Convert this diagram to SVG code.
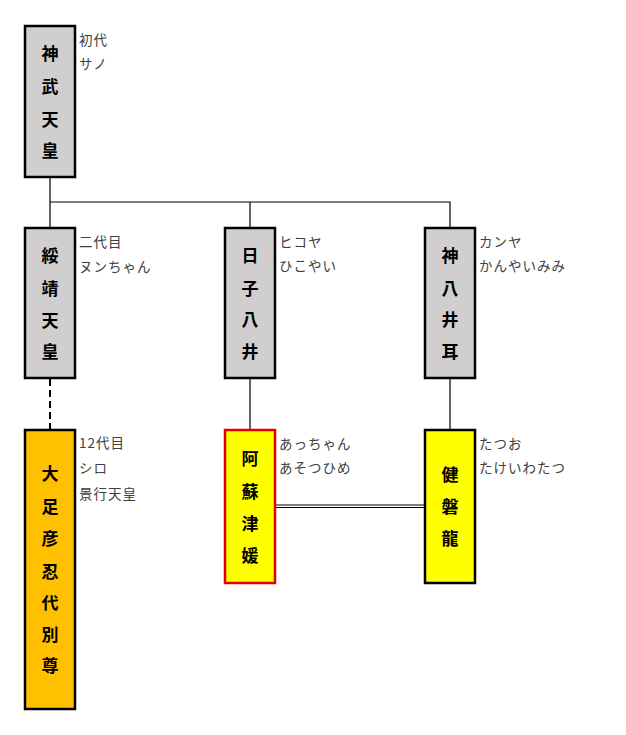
<svg xmlns="http://www.w3.org/2000/svg" width="626" height="735" viewBox="0 0 626 735">
<style>
.box{stroke:#000;stroke-width:2.5}
.gray{fill:#D0CECE}
.yel{fill:#FFFF00}
.org{fill:#FFC000}
.red{stroke:#E00000}
.nm{font-family:"Noto Sans CJK JP","Noto Sans CJK SC",sans-serif;font-weight:bold;font-size:17px;fill:#000;text-anchor:middle;dominant-baseline:central}
.lb{font-family:"Noto Sans CJK JP","Noto Sans CJK SC",sans-serif;font-size:13.5px;fill:#404040;letter-spacing:1px;dominant-baseline:central}
.ln{stroke:#000;stroke-width:1.2;fill:none}
</style>
<rect width="626" height="735" fill="#fff"/>
<g id="connectors">
<path class="ln" d="M50 177V202H450V228M250 202V228M50 202V228"/>
<path class="ln" d="M250 378V430M450 378V430"/>
<path d="M50 379V430" stroke="#000" stroke-width="2" stroke-dasharray="7 4" fill="none"/>
<path class="ln" d="M275 505H425M275 507.5H425" stroke-width="1"/>
</g>
<g id="jimmu">
<rect class="box gray" x="25" y="26" width="50" height="151"/>
<text class="nm" x="50" y="52">神</text><text class="nm" x="50" y="85">武</text><text class="nm" x="50" y="118">天</text><text class="nm" x="50" y="149">皇</text>
<text class="lb" x="79" y="39">初代</text><text class="lb" x="79" y="63">サノ</text>
</g>
<g id="suizei">
<rect class="box gray" x="25" y="228" width="50" height="150"/>
<text class="nm" x="50" y="254">綏</text><text class="nm" x="50" y="287">靖</text><text class="nm" x="50" y="319">天</text><text class="nm" x="50" y="350">皇</text>
<text class="lb" x="79" y="241">二代目</text><text class="lb" x="79" y="266">ヌンちゃん</text>
</g>
<g id="hikoyai">
<rect class="box gray" x="225" y="228" width="50" height="150"/>
<text class="nm" x="250" y="254">日</text><text class="nm" x="250" y="287">子</text><text class="nm" x="250" y="318">八</text><text class="nm" x="250" y="350">井</text>
<text class="lb" x="279" y="241">ヒコヤ</text><text class="lb" x="279" y="265">ひこやい</text>
</g>
<g id="kamuyaimimi">
<rect class="box gray" x="425" y="228" width="50" height="150"/>
<text class="nm" x="450" y="254">神</text><text class="nm" x="450" y="287">八</text><text class="nm" x="450" y="318">井</text><text class="nm" x="450" y="350">耳</text>
<text class="lb" x="479" y="241">カンヤ</text><text class="lb" x="479" y="265">かんやいみみ</text>
</g>
<g id="ootarashi">
<rect class="box org" x="25" y="430" width="50" height="279"/>
<text class="nm" x="50" y="472">大</text><text class="nm" x="50" y="505">足</text><text class="nm" x="50" y="537">彦</text><text class="nm" x="50" y="570">忍</text><text class="nm" x="50" y="601">代</text><text class="nm" x="50" y="633">別</text><text class="nm" x="50" y="664">尊</text>
<text class="lb" x="79" y="442">12代目</text><text class="lb" x="79" y="467">シロ</text><text class="lb" x="79" y="493">景行天皇</text>
</g>
<g id="asotsuhime">
<rect class="box yel red" x="225" y="430" width="50" height="153"/>
<text class="nm" x="250" y="457">阿</text><text class="nm" x="250" y="490">蘇</text><text class="nm" x="250" y="522">津</text><text class="nm" x="250" y="554">媛</text>
<text class="lb" x="279" y="443">あっちゃん</text><text class="lb" x="279" y="467">あそつひめ</text>
</g>
<g id="takeiwatatsu">
<rect class="box yel" x="425" y="430" width="50" height="153"/>
<text class="nm" x="450" y="473">健</text><text class="nm" x="450" y="505">磐</text><text class="nm" x="450" y="537">龍</text>
<text class="lb" x="479" y="443">たつお</text><text class="lb" x="479" y="467">たけいわたつ</text>
</g>
</svg>
